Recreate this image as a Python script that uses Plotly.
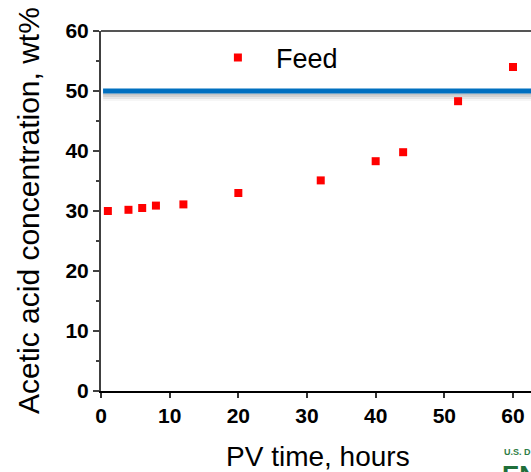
import plotly.graph_objects as go

# Data
pv_time_hours = [1, 4, 6, 8, 12, 20, 32, 40, 44, 52, 60]
acetic_acid_wt = [30.0, 30.2, 30.5, 30.9, 31.1, 33.0, 35.1, 38.3, 39.8, 48.3, 54.0]
feed_level = 50
feed_line_x = [0.3, 62.62]
x_ticks = [0, 10, 20, 30, 40, 50, 60]
y_ticks = [0, 10, 20, 30, 40, 50, 60]

FONT = "Liberation Sans, Arial, sans-serif"

fig = go.Figure()

# shadow under the feed line
for off, alpha, w in [(0.5, 0.16, 3), (0.8, 0.11, 3), (1.1, 0.07, 3), (1.4, 0.035, 3)]:
    fig.add_trace(go.Scatter(
        x=feed_line_x, y=[feed_level - off] * 2, mode="lines",
        line=dict(color=f"rgba(0,0,0,{alpha})", width=w),
        showlegend=False, hoverinfo="skip"))

fig.add_trace(go.Scatter(
    x=feed_line_x, y=[feed_level] * 2, mode="lines",
    line=dict(color="#0070C0", width=5),
    showlegend=False, hoverinfo="skip"))

fig.add_trace(go.Scatter(
    x=pv_time_hours, y=acetic_acid_wt, mode="markers", name="Feed",
    marker=dict(symbol="square", size=8, color="#FF0000"),
    showlegend=True))

fig.update_layout(
    width=531, height=472,
    margin=dict(l=101, r=0, t=31, b=81),
    paper_bgcolor="white", plot_bgcolor="white",
    font=dict(family=FONT, color="black"),
    showlegend=True,
    legend=dict(x=0.23, y=0.925, xanchor="left", yanchor="middle",
                bgcolor="rgba(0,0,0,0)", itemwidth=66,
                font=dict(size=27, family=FONT, color="black")),
    xaxis=dict(range=[0, 62.62], tickvals=x_ticks, ticks="outside", ticklen=5,
               tickwidth=1.5, tickcolor="#333", showline=True, linecolor="black",
               linewidth=2, showgrid=False, zeroline=False,
               tickfont=dict(size=21, family=FONT, color="black", weight="bold")),
    yaxis=dict(range=[0, 60], tickvals=y_ticks, ticks="outside", ticklen=6,
               tickwidth=1.5, tickcolor="#404040", showline=True, linecolor="#404040",
               linewidth=2, showgrid=False, zeroline=False,
               minor=dict(dtick=5, ticks="outside", ticklen=3, tickwidth=1.5,
                          tickcolor="#404040"),
               tickfont=dict(size=21, family=FONT, color="black", weight="bold")),
    shapes=[dict(type="line", xref="paper", yref="paper", x0=0, x1=1, y0=1, y1=1,
                 line=dict(color="#555555", width=2))],
    annotations=[
        dict(text="PV time, hours", xref="paper", yref="paper", x=(224 - 101) / 430,
             y=-0.181, xanchor="left", yanchor="middle", showarrow=False,
             font=dict(size=28, family=FONT, color="black")),
        dict(text="Acetic acid concentration, wt%", xref="paper", yref="paper",
             x=(28 - 101) / 430, y=0.5, xanchor="center", yanchor="middle", textangle=-90,
             showarrow=False, font=dict(size=30, family=FONT, color="black")),
        dict(text="U.S. D", xref="paper", yref="paper",
             x=(502 - 101) / 430, y=(391 - 451.5) / 360, xanchor="left", yanchor="middle",
             showarrow=False, font=dict(size=9, family=FONT, color="#2E7D45", weight="bold")),
        dict(text="EN", xref="paper", yref="paper",
             x=(500 - 101) / 430, y=(391 - 458) / 360, xanchor="left", yanchor="top",
             showarrow=False, font=dict(size=26, family=FONT, color="#1F6F3A", weight="bold")),
    ],
)

fig.write_html("out.html", config={"displayModeBar": False},
               post_script="document.body.style.margin='0';document.body.style.overflow='hidden';")
